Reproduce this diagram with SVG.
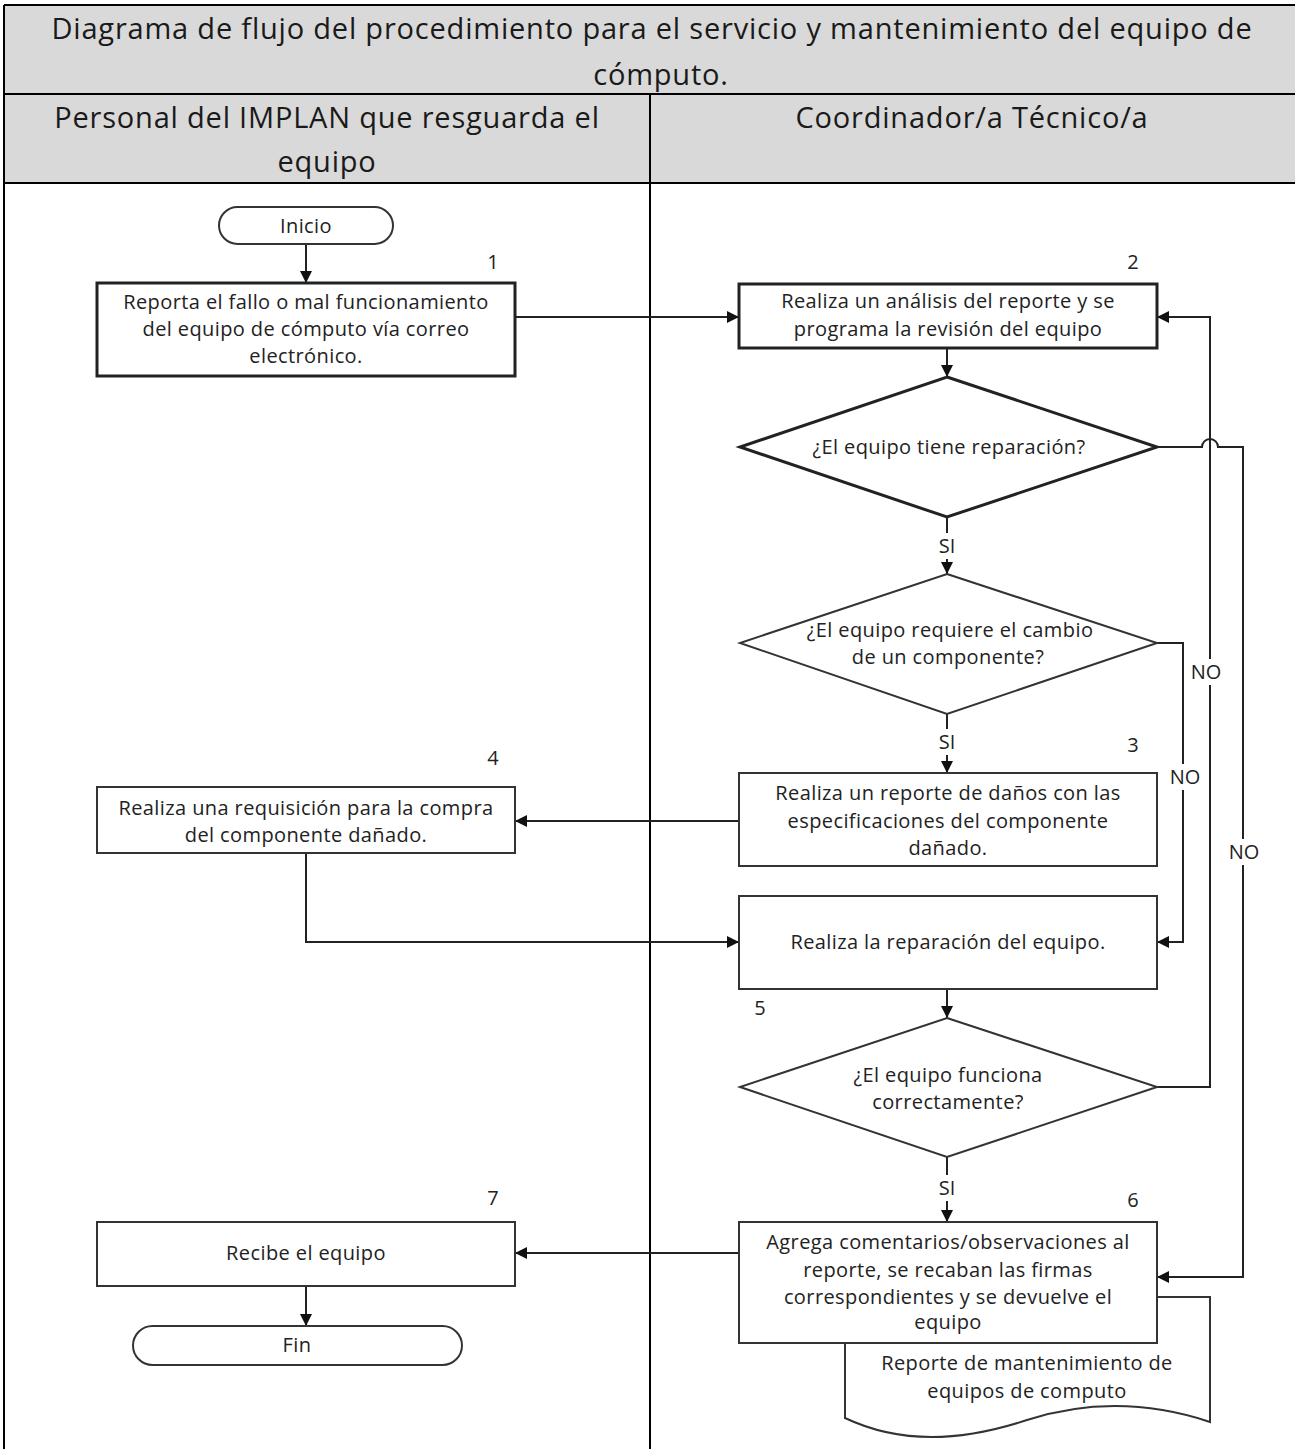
<svg xmlns="http://www.w3.org/2000/svg" width="1295" height="1449" viewBox="0 0 1295 1449">
<defs>
<marker id="ah" markerUnits="userSpaceOnUse" markerWidth="12" markerHeight="12" refX="12" refY="6" orient="auto" viewBox="0 0 12 12">
<path d="M0,0 L12,6 L0,12 Z" fill="#111"/>
</marker>
<style>
.hd{font-family:"Open Sans","Liberation Sans",sans-serif;font-size:29px;letter-spacing:0.8px;fill:#1a1a1a;text-anchor:middle}
.t{font-family:"Open Sans","Liberation Sans",sans-serif;font-size:20px;letter-spacing:0.4px;fill:#222;text-anchor:middle}
.n{font-family:"Open Sans","Liberation Sans",sans-serif;font-size:20px;fill:#222;text-anchor:middle}
.box{fill:#fff;stroke:#333;stroke-width:2}
.bold{fill:#fff;stroke:#222;stroke-width:3}
.c{fill:none;stroke:#222;stroke-width:2}
.ca{fill:none;stroke:#222;stroke-width:2;marker-end:url(#ah)}
.grid{stroke:#000;stroke-width:2;fill:none}
</style>
</defs>
<rect width="1295" height="1449" fill="#fff"/>
<g id="header">
<rect x="4" y="5" width="1295" height="178" fill="#d9d9d9"/>
<line class="grid" x1="4" y1="5" x2="1295" y2="5" stroke-width="3"/>
<line class="grid" x1="4" y1="94" x2="1295" y2="94"/>
<line class="grid" x1="4" y1="183" x2="1295" y2="183" stroke-width="3"/>
<line class="grid" x1="4" y1="5" x2="4" y2="1449" stroke-width="3"/>
<line class="grid" x1="650" y1="94" x2="650" y2="1449"/>
<text class="hd" x="652" y="39">Diagrama de flujo del procedimiento para el servicio y mantenimiento del equipo de</text>
<text class="hd" x="661" y="85">cómputo.</text>
<text class="hd" x="327" y="128">Personal del IMPLAN que resguarda el</text>
<text class="hd" x="327" y="172">equipo</text>
<text class="hd" x="972" y="128">Coordinador/a Técnico/a</text>
</g>
<g id="connectors">
<path class="ca" d="M306,244 V283"/>
<path class="ca" d="M515,317 H739"/>
<path class="ca" d="M947,348 V377"/>
<path class="ca" d="M947,517 V574"/>
<path class="ca" d="M947,714 V773"/>
<path class="ca" d="M739,821 H515"/>
<path class="ca" d="M306,853 V942 H739"/>
<path class="ca" d="M1157,643 H1183 V942 H1157"/>
<path class="ca" d="M947,989 V1018"/>
<path class="ca" d="M1157,1087 H1210 V317 H1157"/>
<path class="ca" d="M1157,447 H1202 A8,8 0 0 1 1218,447 H1243 V1277 H1157"/>
<path class="ca" d="M947,1157 V1222"/>
<path class="ca" d="M739,1253 H515"/>
<path class="ca" d="M306,1286 V1326"/>
</g>
<g id="labels">
<rect x="935" y="533" width="24" height="26" fill="#fff"/>
<text class="n" x="947" y="553">SI</text>
<rect x="935" y="729" width="24" height="26" fill="#fff"/>
<text class="n" x="947" y="749">SI</text>
<rect x="935" y="1175" width="24" height="26" fill="#fff"/>
<text class="n" x="947" y="1195">SI</text>
<rect x="1189" y="659" width="34" height="26" fill="#fff"/>
<text class="n" x="1206" y="679">NO</text>
<rect x="1168" y="764" width="34" height="26" fill="#fff"/>
<text class="n" x="1185" y="784">NO</text>
<rect x="1227" y="839" width="34" height="26" fill="#fff"/>
<text class="n" x="1244" y="859">NO</text>
<text class="n" x="493" y="269">1</text>
<text class="n" x="1133" y="269">2</text>
<text class="n" x="1133" y="752">3</text>
<text class="n" x="493" y="765">4</text>
<text class="n" x="760" y="1015">5</text>
<text class="n" x="1133" y="1207">6</text>
<text class="n" x="493" y="1205">7</text>
</g>
<g id="inicio">
<rect class="box" x="219" y="207" width="174" height="37" rx="18.5"/>
<text class="t" x="306" y="233">Inicio</text>
</g>
<g id="n1">
<rect class="bold" x="97" y="283" width="418" height="93"/>
<text class="t" x="306" y="309">Reporta el fallo o mal funcionamiento</text>
<text class="t" x="306" y="336">del equipo de cómputo vía correo</text>
<text class="t" x="306" y="363">electrónico.</text>
</g>
<g id="n2">
<rect class="bold" x="739" y="284" width="418" height="64"/>
<text class="t" x="948" y="308">Realiza un análisis del reporte y se</text>
<text class="t" x="948" y="336">programa la revisión del equipo</text>
</g>
<g id="d1">
<polygon class="bold" points="947,377 1157,447 947,517 740,447"/>
<text class="t" x="949" y="454">¿El equipo tiene reparación?</text>
</g>
<g id="d2">
<polygon class="box" points="947,574 1157,643 947,714 740,643"/>
<text class="t" x="950" y="637">¿El equipo requiere el cambio</text>
<text class="t" x="948" y="664">de un componente?</text>
</g>
<g id="n3">
<rect class="box" x="739" y="773" width="418" height="93"/>
<text class="t" x="948" y="800">Realiza un reporte de daños con las</text>
<text class="t" x="948" y="828">especificaciones del componente</text>
<text class="t" x="948" y="855">dañado.</text>
</g>
<g id="n4">
<rect class="box" x="97" y="787" width="418" height="66"/>
<text class="t" x="306" y="815">Realiza una requisición para la compra</text>
<text class="t" x="306" y="842">del componente dañado.</text>
</g>
<g id="n5">
<rect class="box" x="739" y="896" width="418" height="93"/>
<text class="t" x="948" y="949">Realiza la reparación del equipo.</text>
</g>
<g id="d3">
<polygon class="box" points="947,1018 1157,1087 947,1157 740,1087"/>
<text class="t" x="948" y="1082">¿El equipo funciona</text>
<text class="t" x="948" y="1109">correctamente?</text>
</g>
<g id="doc">
<path class="box" d="M845,1297 H1210 V1422 C1150,1402 1090,1400 1027,1420 C960,1442 900,1444 845,1418 Z"/>
<text class="t" x="1027" y="1370">Reporte de mantenimiento de</text>
<text class="t" x="1027" y="1398">equipos de computo</text>
</g>
<g id="n6">
<rect class="box" x="739" y="1222" width="418" height="121"/>
<text class="t" x="948" y="1249">Agrega comentarios/observaciones al</text>
<text class="t" x="948" y="1277">reporte, se recaban las firmas</text>
<text class="t" x="948" y="1304">correspondientes y se devuelve el</text>
<text class="t" x="948" y="1329">equipo</text>
</g>
<g id="n7">
<rect class="box" x="97" y="1222" width="418" height="64"/>
<text class="t" x="306" y="1260">Recibe el equipo</text>
</g>
<g id="fin">
<rect class="box" x="133" y="1326" width="329" height="39" rx="19.5"/>
<text class="t" x="297" y="1352">Fin</text>
</g>
</svg>
